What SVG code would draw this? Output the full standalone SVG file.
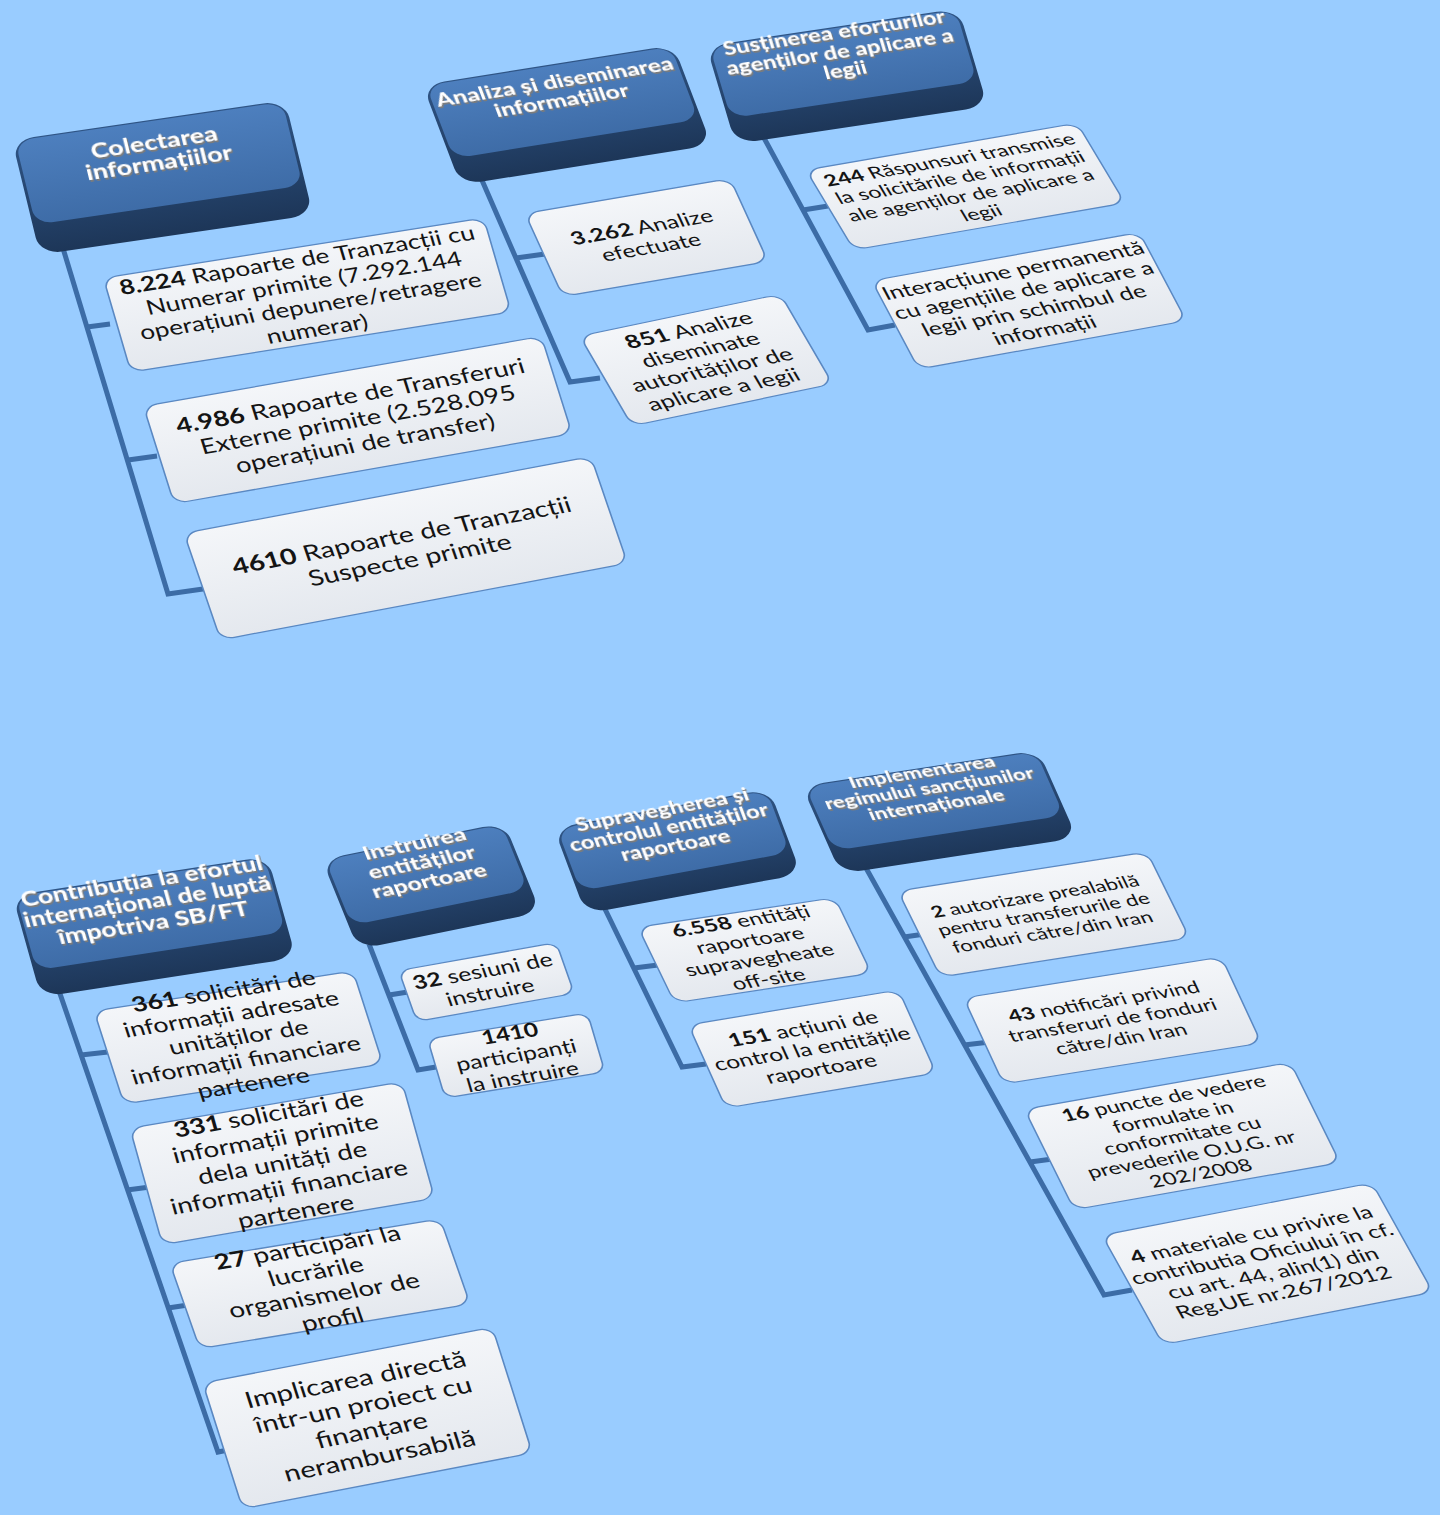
<svg xmlns="http://www.w3.org/2000/svg" width="1440" height="1515" viewBox="0 0 1440 1515">
  <style>
    .bg{fill:#99ccff}
    .conn path{fill:none;stroke:#3c6ca6;stroke-width:5;stroke-linejoin:miter;stroke-linecap:butt}
    .hb{fill:url(#gBand)}
    .ht{fill:url(#gTop)}
    .htt{font-family:Lato,"Open Sans",sans-serif;font-weight:700;fill:#ffffff;text-anchor:middle;filter:url(#emboss)}
    .leaf rect{fill:url(#gLeaf);stroke:#5a88c2;stroke-width:1.6}
    .lt{font-family:Lato,"Open Sans",sans-serif;fill:#141414;text-anchor:middle}
    .b{font-weight:700}
  </style>
  <defs>
    <linearGradient id="gTop" x1="0" y1="0" x2="0" y2="1">
      <stop offset="0" stop-color="#4d7fbe"/>
      <stop offset="1" stop-color="#3e6ca7"/>
    </linearGradient>
    <linearGradient id="gBand" x1="0" y1="0" x2="0" y2="1">
      <stop offset="0" stop-color="#2f5586"/>
      <stop offset="1" stop-color="#1d3658"/>
    </linearGradient>
    <linearGradient id="gLeaf" x1="0" y1="0" x2="0" y2="1">
      <stop offset="0" stop-color="#f4f6f9"/>
      <stop offset="1" stop-color="#e4e8ee"/>
    </linearGradient>
    <!-- grey extrusion under the white header lettering -->
    <filter id="emboss" x="-5%" y="-15%" width="115%" height="150%">
      <feFlood flood-color="#7c7c7c"/>
      <feComposite in2="SourceAlpha" operator="in" result="g"/>
      <feOffset in="g" dx="1" dy="2.5" result="s1"/>
      <feOffset in="g" dx="0.5" dy="1.2" result="s0"/>
      <feMerge><feMergeNode in="s1"/><feMergeNode in="s0"/><feMergeNode in="SourceGraphic"/></feMerge>
    </filter>
    <clipPath id="clipTop"><rect x="0" y="0" width="1440" height="645"/></clipPath>
  </defs>

  <rect class="bg" x="0" y="0" width="1440" height="1515"/>

  <!-- connectors -->
  <g id="connectors" class="conn">
    <g clip-path="url(#clipTop)">
      <path d="M62,245 L168,594 L210,588"/>
      <path d="M87,327 L110,324"/>
      <path d="M128,460 L157,456"/>
      <path d="M481,178 L570,382 L600,378"/>
      <path d="M516,258 L545,254"/>
      <path d="M764,138 L868,330 L895,325"/>
      <path d="M803,210 L828,206"/>
    </g>
    <path d="M57,985 L218,1452 L228,1450"/>
    <path d="M81,1055 L108,1052"/>
    <path d="M127,1190 L150,1187"/>
    <path d="M168,1308 L188,1305"/>
    <path d="M369,944 L418,1070 L436,1067"/>
    <path d="M389,995 L408,992"/>
    <path d="M603,905 L682,1067 L706,1064"/>
    <path d="M634,968 L658,965"/>
    <path d="M866,868 L1104,1295 L1132,1290"/>
    <path d="M904,937 L925,934"/>
    <path d="M964,1045 L990,1042"/>
    <path d="M1030,1162 L1060,1158"/>
  </g>

  <!-- upper chart -->
  <g clip-path="url(#clipTop)">
    <g id="node-colectarea" transform="matrix(0.9895,-0.145,0.1892,0.777,162.5,177.5)">
      <rect class="hb" x="-138" y="-73.75" width="276" height="147.5" rx="22"/>
      <rect class="ht" x="-135" y="-72.25" width="270" height="107.6" rx="18"/>
      <text class="htt" font-size="26.8" y="-36.8"><tspan x="0">Colectarea</tspan><tspan x="0" dy="27.3">informațiilor</tspan></text>
    </g>
    <g id="node-analiza" transform="matrix(0.9875,-0.1574,0.2841,0.7477,567,115)">
      <rect class="hb" x="-127" y="-66.9" width="254" height="133.75" rx="22"/>
      <rect class="ht" x="-124" y="-65.4" width="248" height="97.5" rx="18"/>
      <text class="htt" font-size="24.5" y="-36.4"><tspan x="0">Analiza și diseminarea</tspan><tspan x="0" dy="25">informațiilor</tspan></text>
    </g>
    <g id="node-sustinerea" transform="matrix(0.989,-0.1472,0.2281,0.7668,847,76.25)">
      <rect class="hb" x="-127.5" y="-63.75" width="255" height="127.5" rx="22"/>
      <rect class="ht" x="-124.5" y="-62.25" width="249" height="92.85" rx="18"/>
      <text class="htt" font-size="23.6" y="-48.3"><tspan x="0">Susținerea eforturilor</tspan><tspan x="0" dy="24.1">agenților de aplicare a</tspan><tspan x="0" dy="24.1">legii</tspan></text>
    </g>

    <g id="leaf-8224" class="leaf" transform="matrix(0.9878,-0.1558,0.2247,0.7681,307.25,295)">
      <rect x="-192.5" y="-61.25" width="385" height="122.5" rx="14"/>
      <text class="lt" font-size="26" y="-36.3"><tspan x="0"><tspan class="b">8.224</tspan> Rapoarte de Tranzacții cu</tspan><tspan x="0" dy="29.9">Numerar primite (7.292.144</tspan><tspan x="0" dy="29.9">operațiuni depunere/retragere</tspan><tspan x="0" dy="29.9">numerar)</tspan></text>
    </g>
    <g id="leaf-4986" class="leaf" transform="matrix(0.9849,-0.1734,0.2399,0.763,357.75,420)">
      <rect x="-202" y="-63.75" width="404" height="127.5" rx="14"/>
      <text class="lt" font-size="27" y="-22.2"><tspan x="0"><tspan class="b">4.986</tspan> Rapoarte de Transferuri</tspan><tspan x="0" dy="31.05">Externe primite (2.528.095</tspan><tspan x="0" dy="31.05">operațiuni de transfer)</tspan></text>
    </g>
    <g id="leaf-4610" class="leaf" transform="matrix(0.9828,-0.185,0.2594,0.7567,405.75,548.25)">
      <rect x="-207" y="-70.5" width="414" height="141" rx="14"/>
      <text class="lt" font-size="28" y="-6.9"><tspan x="0"><tspan class="b">4610</tspan> Rapoarte de Tranzacții</tspan><tspan x="0" dy="32.2">Suspecte primite</tspan></text>
    </g>
    <g id="leaf-3262" class="leaf" transform="matrix(0.9857,-0.1683,0.333,0.7273,646.5,237.5)">
      <rect x="-104" y="-57" width="208" height="114" rx="14"/>
      <text class="lt" font-size="24" y="-5.9"><tspan x="0"><tspan class="b">3.262</tspan> Analize</tspan><tspan x="0" dy="27.6">efectuate</tspan></text>
    </g>
    <g id="leaf-851" class="leaf" transform="matrix(0.9786,-0.205,0.403,0.691,706.25,360)">
      <rect x="-102.5" y="-65" width="205" height="130" rx="14"/>
      <text class="lt" font-size="25" y="-34.9"><tspan x="0"><tspan class="b">851</tspan> Analize</tspan><tspan x="0" dy="28.75">diseminate</tspan><tspan x="0" dy="28.75">autorităților de</tspan><tspan x="0" dy="28.75">aplicare a legii</tspan></text>
    </g>
    <g id="leaf-244" class="leaf" transform="matrix(0.9854,-0.1709,0.4116,0.686,965.5,186.5)">
      <rect x="-137.5" y="-58.25" width="275" height="116.5" rx="14"/>
      <text class="lt" font-size="22.4" y="-31.2"><tspan x="0"><tspan class="b">244</tspan> Răspunsuri transmise</tspan><tspan x="0" dy="25.8">la solicitările de informații</tspan><tspan x="0" dy="25.8">ale agenților de aplicare a</tspan><tspan x="0" dy="25.8">legii</tspan></text>
    </g>
    <g id="leaf-interactiune" class="leaf" transform="matrix(0.9839,-0.178,0.3752,0.7066,1029,300.75)">
      <rect x="-136" y="-62.5" width="272" height="125" rx="14"/>
      <text class="lt" font-size="24.5" y="-34"><tspan x="0">Interacțiune permanentă</tspan><tspan x="0" dy="28">cu agențiile de aplicare a</tspan><tspan x="0" dy="28">legii prin schimbul de</tspan><tspan x="0" dy="28">informații</tspan></text>
    </g>
  </g>

  <!-- lower chart -->
  <g id="node-contributia" transform="matrix(0.9884,-0.1528,0.2163,0.7704,154.25,926.75)">
    <rect class="hb" x="-129" y="-65.9" width="258" height="131.75" rx="22"/>
    <rect class="ht" x="-126" y="-64.4" width="252" height="96" rx="18"/>
    <text class="htt" font-size="26.3" y="-50.1"><tspan x="0">Contribuția la efortul</tspan><tspan x="0" dy="26.8">internațional de luptă</tspan><tspan x="0" dy="26.8">împotriva SB/FT</tspan></text>
  </g>
  <g id="node-instruirea" transform="matrix(0.9801,-0.1987,0.3007,0.7415,431.25,886)">
    <rect class="hb" x="-93" y="-60.5" width="186" height="121" rx="22"/>
    <rect class="ht" x="-90" y="-59" width="180" height="88" rx="18"/>
    <text class="htt" font-size="24.5" y="-48.9"><tspan x="0">Instruirea</tspan><tspan x="0" dy="25">entităților</tspan><tspan x="0" dy="25">raportoare</tspan></text>
  </g>
  <g id="node-supravegherea" transform="matrix(0.9835,-0.1807,0.2804,0.7492,677.5,851.25)">
    <rect class="hb" x="-109.5" y="-57" width="219" height="114" rx="22"/>
    <rect class="ht" x="-106.5" y="-55.5" width="213" height="82.9" rx="18"/>
    <text class="htt" font-size="23.3" y="-48.1"><tspan x="0">Supravegherea și</tspan><tspan x="0" dy="23.8">controlul entităților</tspan><tspan x="0" dy="23.8">raportoare</tspan></text>
  </g>
  <g id="node-implementarea" transform="matrix(0.9886,-0.1508,0.324,0.731,939.5,812)">
    <rect class="hb" x="-119.5" y="-60" width="239" height="120" rx="22"/>
    <rect class="ht" x="-116.5" y="-58.5" width="233" height="87.3" rx="18"/>
    <text class="htt" font-size="22" y="-47.1"><tspan x="0">Implementarea</tspan><tspan x="0" dy="22.4">regimului sancțiunilor</tspan><tspan x="0" dy="22.4">internaționale</tspan></text>
  </g>

  <g id="leaf-361" class="leaf" transform="matrix(0.9885,-0.1527,0.2456,0.7616,238.5,1037.5)">
    <rect x="-131" y="-61" width="262" height="122" rx="14"/>
    <text class="lt" font-size="26.5" y="-51.6"><tspan x="0"><tspan class="b">361</tspan> solicitări de</tspan><tspan x="0" dy="30.2">informații adresate</tspan><tspan x="0" dy="30.2">unităților de</tspan><tspan x="0" dy="30.2">informații financiare</tspan><tspan x="0" dy="30.2">partenere</tspan></text>
  </g>
  <g id="leaf-331" class="leaf" transform="matrix(0.9859,-0.1682,0.215,0.7706,282.25,1163.25)">
    <rect x="-138" y="-75.5" width="276" height="151" rx="14"/>
    <text class="lt" font-size="27.5" y="-54.1"><tspan x="0"><tspan class="b">331</tspan> solicitări de</tspan><tspan x="0" dy="31.6">informații primite</tspan><tspan x="0" dy="31.6">dela unități de</tspan><tspan x="0" dy="31.6">informații financiare</tspan><tspan x="0" dy="31.6">partenere</tspan></text>
  </g>
  <g id="leaf-27" class="leaf" transform="matrix(0.9868,-0.1626,0.2649,0.755,320,1283.75)">
    <rect x="-137" y="-56.5" width="274" height="113" rx="14"/>
    <text class="lt" font-size="27.5" y="-38.3"><tspan x="0"><tspan class="b">27</tspan> participări la</tspan><tspan x="0" dy="31.6">lucrările</tspan><tspan x="0" dy="31.6">organismelor de</tspan><tspan x="0" dy="31.6">profil</tspan></text>
  </g>
  <g id="leaf-implicarea" class="leaf" transform="matrix(0.9817,-0.1896,0.2421,0.7625,367.5,1418)">
    <rect x="-147.5" y="-82.5" width="295" height="165" rx="14"/>
    <text class="lt" font-size="29" y="-40.4"><tspan x="0">Implicarea directă</tspan><tspan x="0" dy="33.35">într-un proiect cu</tspan><tspan x="0" dy="33.35">finanțare</tspan><tspan x="0" dy="33.35">nerambursabilă</tspan></text>
  </g>
  <g id="leaf-32" class="leaf" transform="matrix(0.9844,-0.1756,0.2662,0.7542,486.5,982)">
    <rect x="-80" y="-33.75" width="160" height="67.5" rx="12"/>
    <text class="lt" font-size="24.5" y="-6"><tspan x="0"><tspan class="b">32</tspan> sesiuni de</tspan><tspan x="0" dy="28.2">instruire</tspan></text>
  </g>
  <g id="leaf-1410" class="leaf" transform="matrix(0.987,-0.1609,0.2276,0.7674,516.25,1055.5)">
    <rect x="-81" y="-38.5" width="162" height="77" rx="12"/>
    <text class="lt" font-size="24.5" y="-20.1"><tspan x="0" class="b">1410</tspan><tspan x="0" dy="28.2">participanți</tspan><tspan x="0" dy="28.2">la instruire</tspan></text>
  </g>
  <g id="leaf-6558" class="leaf" transform="matrix(0.9889,-0.1485,0.348,0.72,754.75,950.25)">
    <rect x="-99.5" y="-52.5" width="199" height="105" rx="14"/>
    <text class="lt" font-size="23.3" y="-32.5"><tspan x="0"><tspan class="b">6.558</tspan> entități</tspan><tspan x="0" dy="26.8">raportoare</tspan><tspan x="0" dy="26.8">supravegheate</tspan><tspan x="0" dy="26.8">off-site</tspan></text>
  </g>
  <g id="leaf-151" class="leaf" transform="matrix(0.9864,-0.164,0.3293,0.7289,812.25,1049)">
    <rect x="-106.5" y="-57" width="213" height="114" rx="14"/>
    <text class="lt" font-size="24" y="-19.7"><tspan x="0"><tspan class="b">151</tspan> acțiuni de</tspan><tspan x="0" dy="27.6">control la entitățile</tspan><tspan x="0" dy="27.6">raportoare</tspan></text>
  </g>
  <g id="leaf-2" class="leaf" transform="matrix(0.988,-0.1551,0.3546,0.7174,1043.75,914.5)">
    <rect x="-126" y="-60" width="252" height="120" rx="14"/>
    <text class="lt" font-size="21.6" y="-17.7"><tspan x="0"><tspan class="b">2</tspan> autorizare prealabilă</tspan><tspan x="0" dy="24.8">pentru transferurile de</tspan><tspan x="0" dy="24.8">fonduri către/din Iran</tspan></text>
  </g>
  <g id="leaf-43" class="leaf" transform="matrix(0.9877,-0.157,0.3375,0.7257,1112.5,1020.5)">
    <rect x="-130.5" y="-59.25" width="261" height="118.5" rx="14"/>
    <text class="lt" font-size="22.4" y="-18.4"><tspan x="0"><tspan class="b">43</tspan> notificări privind</tspan><tspan x="0" dy="25.8">transferuri de fonduri</tspan><tspan x="0" dy="25.8">către/din Iran</tspan></text>
  </g>
  <g id="leaf-16" class="leaf" transform="matrix(0.9848,-0.1743,0.3549,0.7169,1182.25,1136)">
    <rect x="-135" y="-70" width="270" height="140" rx="14"/>
    <text class="lt" font-size="22.8" y="-44.9"><tspan x="0"><tspan class="b">16</tspan> puncte de vedere</tspan><tspan x="0" dy="26.2">formulate in</tspan><tspan x="0" dy="26.2">conformitate cu</tspan><tspan x="0" dy="26.2">prevederile O.U.G. nr</tspan><tspan x="0" dy="26.2">202/2008</tspan></text>
  </g>
  <g id="leaf-4" class="leaf" transform="matrix(0.9815,-0.1908,0.3894,0.699,1267.5,1263.75)">
    <rect x="-137.5" y="-78.25" width="275" height="156.5" rx="14"/>
    <text class="lt" font-size="24" y="-33.5"><tspan x="0"><tspan class="b">4</tspan> materiale cu privire la</tspan><tspan x="0" dy="27.6">contributia Oficiului în cf.</tspan><tspan x="0" dy="27.6">cu art. 44, alin(1) din</tspan><tspan x="0" dy="27.6">Reg.UE nr.267/2012</tspan></text>
  </g>
</svg>
